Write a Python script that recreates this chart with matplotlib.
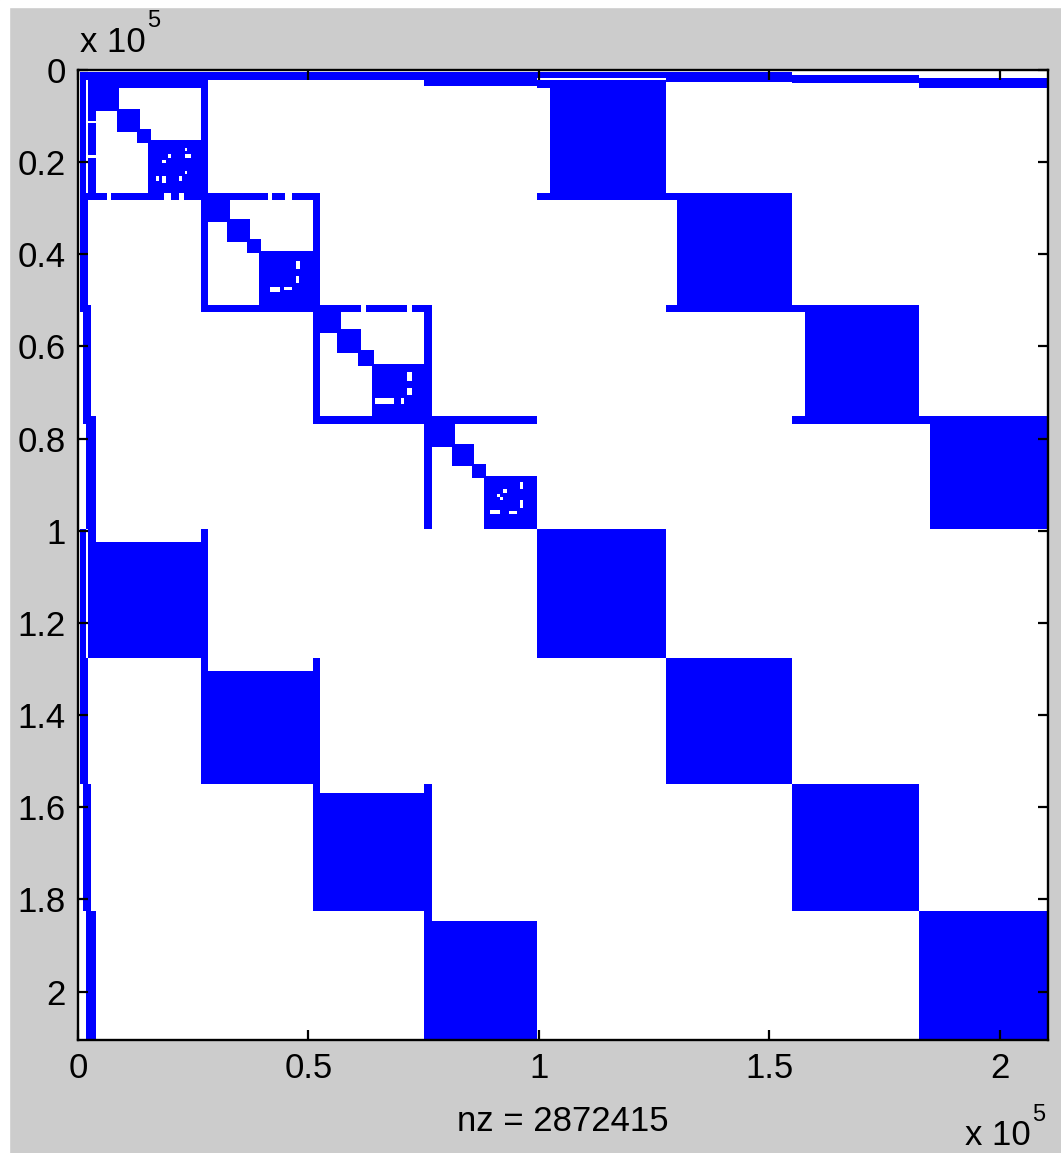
import numpy as np
import matplotlib.pyplot as plt
from matplotlib.colors import ListedColormap
from matplotlib.patches import Rectangle

# matrix order and grid cell, in thousands of rows / cols
N_ORDER = 210.5
STEP = 0.25
NZ = 2872415

# each super-block i is (A_i, D_i); ranges in thousands of rows/cols
A_RANGE = [(2.2, 28.2), (26.7, 52.4), (50.9, 76.8), (74.9, 99.6)]
D_RANGE = [(99.6, 127.4), (127.4, 154.9), (154.9, 182.5), (182.5, 210.5)]
SEPARATORS = [(2.2, 4.0), (26.7, 28.2), (50.9, 52.4), (74.9, 76.8)]
A_SUBBLOCKS = [
    [(2.2, 9.1), (8.5, 13.5), (12.8, 15.8), (15.2, 28.2)],
    [(26.7, 33.0), (32.3, 37.3), (36.7, 39.7), (39.3, 52.4)],
    [(50.9, 57.1), (56.2, 61.4), (60.8, 64.2), (63.8, 76.8)],
    [(74.9, 81.8), (81.2, 85.9), (85.5, 88.5), (87.9, 99.6)],
]
B_LEFT_OFFSET = [2.8, 2.6, 2.8, 2.6]
C_TOP_OFFSET = [2.8, 3.0, 2.2, 2.2]

# border rows/cols at the start of the ordering
LEFT_BAND = [(0.4, 1.7), (0.4, 2.2), (1.0, 2.8), (1.7, 4.1)]
TOP_BAND_A = [(0.4, 2.2), (0.4, 2.2), (0.4, 2.2), (0.4, 3.4)]
TOP_BAND_D = [(0.4, 1.7), (0.4, 2.4), (1.1, 2.8), (1.7, 4.1)]

# zero spots: (row0, row1, col0, col1)
HOLES = [
    (23.1, 24.0, 17.0, 17.6), (19.5, 20.2, 18.2, 18.9), (18.3, 18.9, 19.6, 20.2),
    (17.1, 17.6, 23.2, 23.8), (18.3, 18.9, 23.2, 24.5), (23.1, 23.9, 21.9, 22.5),
    (21.9, 22.4, 23.2, 23.8), (23.1, 24.5, 18.2, 18.9),
    (41.6, 43.3, 47.3, 48.3), (47.0, 48.3, 41.7, 43.7), (47.0, 47.7, 44.7, 46.4),
    (44.7, 46.3, 47.3, 47.9),
    (65.4, 67.4, 71.4, 72.6), (68.9, 70.4, 71.4, 72.6), (71.2, 72.4, 64.5, 68.4),
    (71.2, 72.4, 69.9, 70.7),
    (89.6, 91.1, 95.9, 96.5), (92.1, 92.7, 90.9, 91.6), (91.0, 91.7, 92.3, 92.9),
    (92.7, 93.3, 91.6, 92.3), (93.3, 94.9, 95.9, 96.5), (95.5, 96.2, 89.6, 91.6),
    (95.7, 96.2, 93.4, 95.2),
    # breaks in the separator lines
    (26.7, 28.2, 6.3, 7.2), (26.7, 28.2, 18.7, 20.2), (26.7, 28.2, 22.1, 23.0),
    (26.7, 28.2, 41.2, 41.9), (26.7, 28.2, 45.1, 46.6),
    (50.9, 52.4, 61.4, 62.6), (50.9, 52.4, 71.4, 72.6),
    (10.9, 11.5, 2.2, 4.0), (18.4, 19.1, 2.2, 4.0),
]

X_TICKS = [0, 0.5, 1, 1.5, 2]
Y_TICKS = [0, 0.2, 0.4, 0.6, 0.8, 1, 1.2, 1.4, 1.6, 1.8, 2]

n = int(np.ceil(N_ORDER / STEP))
M = np.zeros((n, n), dtype=bool)


def idx(v):
    return int(round(v / STEP))


def fill(r0, r1, c0, c1, val=True):
    M[idx(r0):idx(r1), idx(c0):idx(c1)] = val


for i in range(4):
    a0, a1 = A_RANGE[i]
    d0, d1 = D_RANGE[i]
    # nested diagonal pieces of A_i
    for s0, s1 in A_SUBBLOCKS[i]:
        fill(s0, s1, s0, s1)
    # coupling blocks
    fill(a0, a1, d0 + B_LEFT_OFFSET[i], d1)
    fill(d0 + C_TOP_OFFSET[i], d1, a0, a1)
    fill(d0, d1, d0, d1)
    # separator rows and cols touch the neighbouring super-blocks
    p0, p1 = SEPARATORS[i]
    lo = max(i - 1, 0)
    for (x0, x1) in [(A_RANGE[lo][0], a1), (D_RANGE[lo][0], d1)]:
        fill(p0, p1, x0, x1)
        fill(x0, x1, p0, p1)
    # border bands
    r_start = 0.4 if i == 0 else a0
    fill(r_start, a1, *LEFT_BAND[i])
    fill(d0, d1, *LEFT_BAND[i])
    fill(*TOP_BAND_A[i], r_start, a1)
    fill(*TOP_BAND_D[i], d0, d1)

for h in HOLES:
    fill(*h, val=False)

W, H = 1061, 1153
fig = plt.figure(figsize=(W / 100, H / 100), dpi=100, facecolor='#cccccc')
ax = fig.add_axes([78 / W, 1 - 1040 / H, 970 / W, 970 / H])

size = n * STEP * 1000
ax.imshow(M, cmap=ListedColormap(['white', '#0000ff']), interpolation='nearest',
          extent=(0, size, size, 0), aspect='auto')
ax.set_xlim(0, N_ORDER * 1000)
ax.set_ylim(N_ORDER * 1000, 0)

ax.set_xticks([t * 1e5 for t in X_TICKS])
ax.set_xticklabels(['%g' % t for t in X_TICKS])
ax.set_yticks([t * 1e5 for t in Y_TICKS])
ax.set_yticklabels(['%g' % t for t in Y_TICKS])

font = 'Liberation Sans'
ax.tick_params(direction='in', top=True, right=True, length=7, width=1.6,
               labelsize=25, pad=9)
for lab in ax.get_xticklabels() + ax.get_yticklabels():
    lab.set_family(font)
for sp in ax.spines.values():
    sp.set_linewidth(1.7)

ax.set_xlabel('nz = %d' % NZ, fontsize=25, family=font, labelpad=14)

# MATLAB style exponent labels
fig.text(80 / W, 1 - 52 / H, 'x 10', fontsize=25, family=font, va='baseline')
fig.text(147 / W, 1 - 27 / H, '5', fontsize=17, family=font, va='baseline')
fig.text(965 / W, 1 - 1145 / H, 'x 10', fontsize=25, family=font, va='baseline')
fig.text(1032 / W, 1 - 1121 / H, '5', fontsize=17, family=font, va='baseline')

# white margin of the screenshot
fig.patches.append(Rectangle((0, 0), 9 / W, 1, transform=fig.transFigure,
                             color='white', zorder=0))
fig.patches.append(Rectangle((0, 1 - 7 / H), 1, 7 / H, transform=fig.transFigure,
                             color='white', zorder=0))

fig.savefig('out.png', dpi=100, facecolor=fig.get_facecolor())
